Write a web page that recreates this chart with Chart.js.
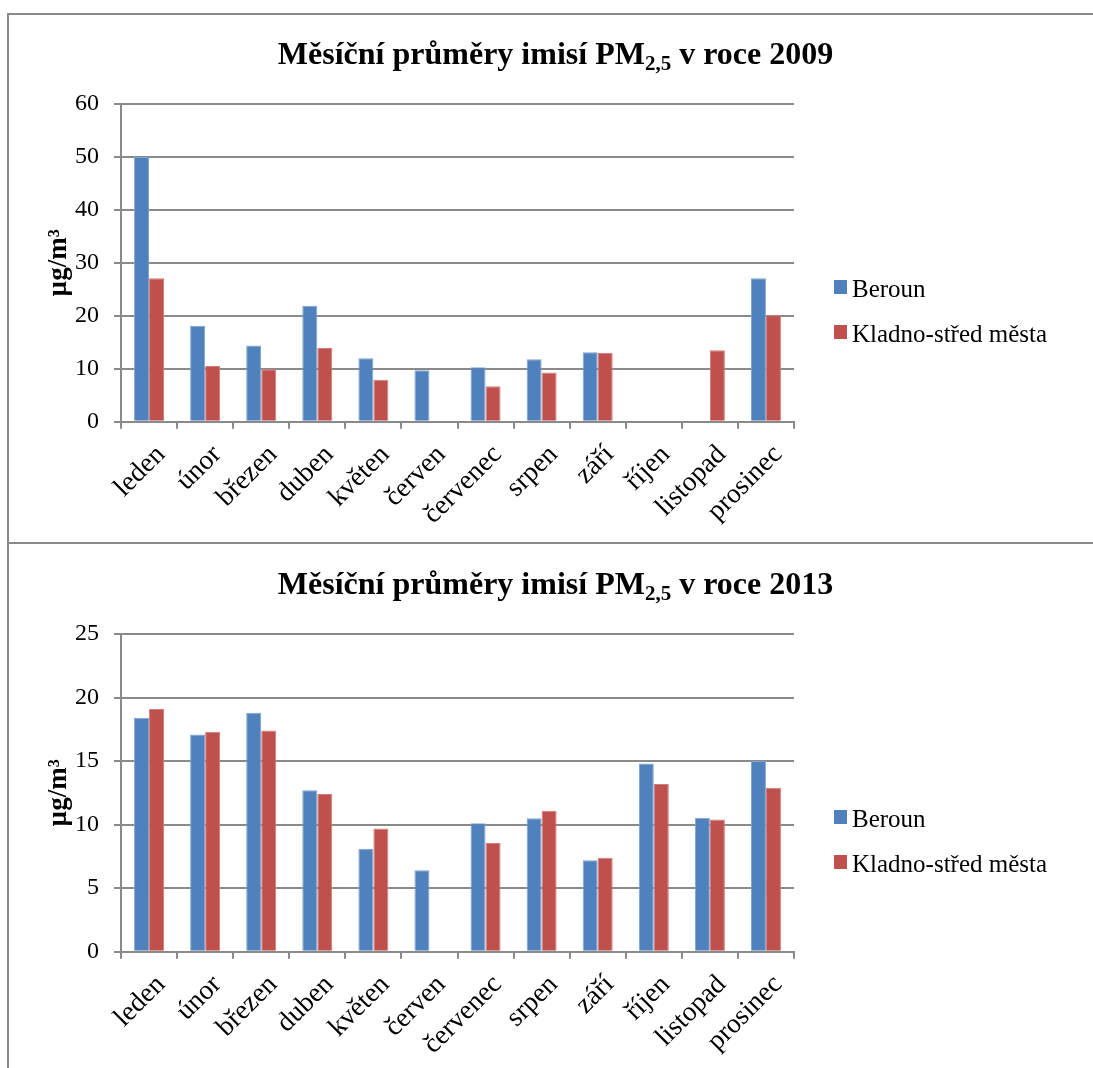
<!DOCTYPE html>
<html lang="cs">
<head>
<meta charset="UTF-8">
<title>Měsíční průměry imisí PM2,5</title>
<script src="https://cdn.jsdelivr.net/npm/chart.js"></script>
<style>
  body { margin: 0; background: #fff; }
  #page { position: relative; width: 1093px; height: 1068px; overflow: hidden; background: #fff;
          font-family: "Liberation Serif", "Times New Roman", serif; }
  .line { position: absolute; background: #8a8a8a; z-index: 5; }
  .box { position: absolute; left: 0; width: 1093px; }
  .box canvas { position: absolute; left: 0; top: 0; }
  .title { position: absolute; left: 0; width: 1111px; top: 24px; text-align: center;
           font-weight: bold; font-size: 32px; line-height: 32px; white-space: nowrap; }
  .title sub { font-size: 21px; vertical-align: -6px; line-height: 0; }
  .legend-row { position: absolute; left: 834px; height: 25px; font-size: 25px; line-height: 25px; white-space: nowrap; }
  .legend-row i { position: absolute; left: 0; top: 4px; width: 13px; height: 14px; }
  .legend-row span { position: absolute; left: 18px; top: 0; }
</style>
</head>
<body>
<div id="page">
  <div class="line" style="left:7px; top:13px; width:1086px; height:2px"></div>
  <div class="line" style="left:7px; top:13px; width:2px; height:1055px"></div>
  <div class="line" style="left:7px; top:542px; width:1086px; height:2px"></div>

  <div class="box" id="box1" style="top:13px; height:530px">
    <canvas id="graf2009" width="1093" height="530"></canvas>
    <div class="title">Měsíční průměry imisí PM<sub>2,5</sub> v roce 2009</div>
  </div>
  <div class="box" id="box2" style="top:543px; height:525px">
    <canvas id="graf2013" width="1093" height="525"></canvas>
    <div class="title">Měsíční průměry imisí PM<sub>2,5</sub> v roce 2013</div>
  </div>
</div>

<script>
  const mesice = ["leden", "únor", "březen", "duben", "květen", "červen",
                  "červenec", "srpen", "září", "říjen", "listopad", "prosinec"];
  const stanice = ["Beroun", "Kladno-střed města"];
  const barvy = ["#4F81BD", "#C0504D"];

  const beroun2009 = [50.0, 18.1, 14.4, 21.9, 12.0, 9.7, 10.3, 11.8, 13.1, null, null, 27.1];
  const kladno2009 = [27.1, 10.5, 9.9, 13.9, 7.9, null, 6.7, 9.3, 13.0, null, 13.5, 20.1];
  const beroun2013 = [18.4, 17.1, 18.8, 12.7, 8.1, 6.4, 10.1, 10.5, 7.2, 14.8, 10.55, 15.0];
  const kladno2013 = [19.1, 17.3, 17.4, 12.4, 9.7, null, 8.55, 11.1, 7.4, 13.2, 10.4, 12.9];

  const osa2009 = { max: 60, krok: 10 };
  const osa2013 = { max: 25, krok: 5 };

  const seda = "#8a8a8a";
  Chart.defaults.font.family = "'Liberation Serif', 'Times New Roman', serif";
  Chart.defaults.color = "#000";

  function vykresli(canvasId, boxId, data1, data2, osa) {
    const chart = new Chart(document.getElementById(canvasId), {
      type: "bar",
      data: {
        labels: mesice,
        datasets: [
          { label: stanice[0], data: data1, backgroundColor: barvy[0], borderColor: "#7fa2cf", borderWidth: 1 },
          { label: stanice[1], data: data2, backgroundColor: barvy[1], borderColor: "#d07c79", borderWidth: 1 }
        ]
      },
      options: {
        responsive: false,
        animation: false,
        layout: { padding: { top: 91, left: 0, right: 299, bottom: 0 } },
        datasets: { bar: { categoryPercentage: 0.535, barPercentage: 1.0 } },
        plugins: { legend: { display: false }, title: { display: false }, tooltip: { enabled: false } },
        scales: {
          x: {
            grid: { display: true, drawOnChartArea: false, drawTicks: true, tickLength: 7, color: seda, lineWidth: 2 },
            border: { display: true, color: seda, width: 2 },
            ticks: { autoSkip: false, minRotation: 45, maxRotation: 45, padding: 10, labelOffset: 12, font: { size: 27.5 } },
            afterFit: s => { s.height = s.chart.height - 408.7; }
          },
          y: {
            min: 0, max: osa.max,
            ticks: { stepSize: osa.krok, padding: 15, font: { size: 24 } },
            grid: { color: seda, lineWidth: 2, tickLength: 7 },
            border: { display: true, color: seda, width: 2 },
            title: { display: true, text: "µg/m³", font: { size: 27, weight: "bold" }, padding: { top: 43, bottom: 0 } },
            afterFit: s => { s.width = 121; }
          }
        }
      }
    });

    // legenda
    const box = document.getElementById(boxId);
    chart.data.datasets.forEach((ds, i) => {
      const row = document.createElement("div");
      row.className = "legend-row";
      row.style.top = (263 + i * 45) + "px";
      row.innerHTML = `<i style="background:${ds.backgroundColor}"></i><span>${ds.label}</span>`;
      box.appendChild(row);
    });
  }

  vykresli("graf2009", "box1", beroun2009, kladno2009, osa2009);
  vykresli("graf2013", "box2", beroun2013, kladno2013, osa2013);
</script>
</body>
</html>
